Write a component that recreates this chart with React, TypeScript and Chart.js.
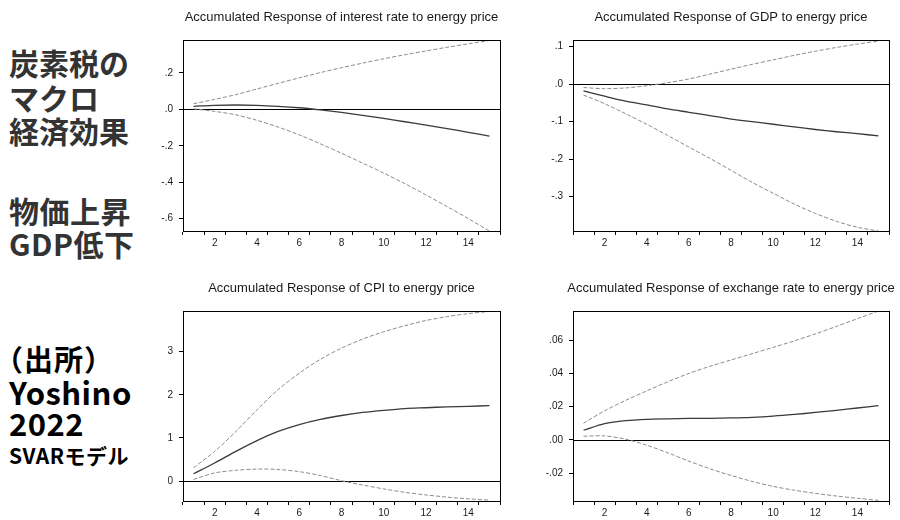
import React, { useEffect, useRef } from "react";
import { Chart, registerables } from "chart.js";

Chart.register(...registerables);

// ---------- data ----------
const PERIODS = [1, 2, 3, 4, 5, 6, 7, 8, 9, 10, 11, 12, 13, 14, 15];

const RATE_TITLE = "Accumulated Response of interest rate to energy price";
const RATE_UPPER = [0.031, 0.055, 0.081, 0.112, 0.143, 0.173, 0.202, 0.229, 0.254, 0.278, 0.3, 0.321, 0.341, 0.36, 0.378];
const RATE_MID = [0.017, 0.022, 0.024, 0.022, 0.017, 0.009, -0.003, -0.017, -0.033, -0.05, -0.068, -0.087, -0.106, -0.126, -0.147];
const RATE_LOWER = [0.003, -0.011, -0.03, -0.06, -0.097, -0.14, -0.189, -0.241, -0.295, -0.35, -0.408, -0.47, -0.534, -0.6, -0.668];
const RATE_TICKS = [-0.6, -0.4, -0.2, 0, 0.2];

const GDP_TITLE = "Accumulated Response of GDP to energy price";
const GDP_UPPER = [-0.009, -0.012, -0.01, -0.004, 0.004, 0.014, 0.027, 0.04, 0.053, 0.065, 0.077, 0.088, 0.098, 0.107, 0.115];
const GDP_MID = [-0.018, -0.032, -0.045, -0.055, -0.066, -0.075, -0.084, -0.093, -0.1, -0.107, -0.114, -0.121, -0.127, -0.132, -0.138];
const GDP_LOWER = [-0.029, -0.052, -0.079, -0.107, -0.137, -0.168, -0.198, -0.23, -0.262, -0.291, -0.32, -0.345, -0.366, -0.382, -0.392];
const GDP_TICKS = [-0.3, -0.2, -0.1, 0, 0.1];

const CPI_TITLE = "Accumulated Response of CPI to energy price";
const CPI_UPPER = [0.31, 0.69, 1.15, 1.65, 2.12, 2.5, 2.82, 3.08, 3.29, 3.46, 3.6, 3.72, 3.81, 3.88, 3.93];
const CPI_MID = [0.17, 0.42, 0.69, 0.94, 1.15, 1.31, 1.43, 1.52, 1.59, 1.64, 1.68, 1.7, 1.72, 1.73, 1.75];
const CPI_LOWER = [0.04, 0.19, 0.25, 0.28, 0.27, 0.22, 0.13, 0.01, -0.09, -0.18, -0.26, -0.32, -0.37, -0.41, -0.44];
const CPI_TICKS = [0, 1, 2, 3];

const FX_TITLE = "Accumulated Response of exchange rate to energy price";
const FX_UPPER = [0.01, 0.0175, 0.0238, 0.0295, 0.035, 0.04, 0.0443, 0.0481, 0.0519, 0.0557, 0.0596, 0.0638, 0.0683, 0.073, 0.0776];
const FX_MID = [0.0058, 0.0098, 0.0116, 0.0124, 0.0127, 0.0129, 0.013, 0.0132, 0.0136, 0.0143, 0.0153, 0.0165, 0.0178, 0.0192, 0.0206];
const FX_LOWER = [0.0022, 0.0024, 0.0004, -0.0032, -0.0078, -0.0128, -0.0174, -0.0214, -0.025, -0.028, -0.0303, -0.0322, -0.0338, -0.0352, -0.0364];
const FX_TICKS = [-0.02, 0, 0.02, 0.04, 0.06];

const SIDE_TOP = ["炭素税の", "マクロ", "経済効果"];
const SIDE_MID = ["物価上昇", "GDP低下"];
const SIDE_PAREN = "（出所）";
const SIDE_SOURCE = ["Yoshino", "2022"];
const SIDE_MODEL = "SVARモデル";

// ---------- helpers ----------
function fmt(v: number, d: number): string {
  const x = Math.abs(v) < 1e-12 ? 0 : v;
  let s = x.toFixed(d);
  if (d > 0) s = s.replace(/^(-?)0\./, "$1.");
  return s;
}

const framePlugin = {
  id: "frame",
  beforeDatasetsDraw(chart: any) {
    const { ctx, chartArea, scales } = chart;
    const yz = Math.round(scales.y.getPixelForValue(0)) + 0.5;
    ctx.save();
    ctx.strokeStyle = "#000";
    ctx.lineWidth = 1;
    ctx.beginPath();
    ctx.moveTo(chartArea.left, yz);
    ctx.lineTo(chartArea.right, yz);
    ctx.stroke();
    ctx.restore();
  },
  afterDraw(chart: any, _args: any, opts: any) {
    const { ctx, chartArea } = chart;
    const { left, top, right, bottom } = chartArea;
    ctx.save();
    ctx.strokeStyle = "#000";
    ctx.lineWidth = 1;
    ctx.strokeRect(Math.round(left) + 0.5, Math.round(top) + 0.5, Math.round(right - left), Math.round(bottom - top));
    ctx.fillStyle = "#1a1a1a";
    ctx.font = `${opts.size}px "Liberation Sans", Arial, sans-serif`;
    ctx.textAlign = "center";
    ctx.textBaseline = "middle";
    ctx.fillText(opts.text, (left + right) / 2, opts.y);
    ctx.restore();
  },
};

type PanelProps = {
  left: number;
  top: number;
  width: number;
  height: number;
  areaLeft: number;
  areaRight: number;
  areaTop: number;
  areaBottom: number;
  title: string;
  titleY: number;
  upper: number[];
  mid: number[];
  lower: number[];
  yMin: number;
  yMax: number;
  yTicks: number[];
  decimals: number;
};

function Panel(p: PanelProps) {
  const ref = useRef<HTMLCanvasElement | null>(null);
  useEffect(() => {
    if (!ref.current) return;
    const dashed = {
      borderColor: "#8c8c8c",
      borderWidth: 1,
      borderDash: [4, 2],
      pointRadius: 0,
      tension: 0.3,
      fill: false,
    };
    const chart = new Chart(ref.current, {
      type: "line",
      data: {
        labels: PERIODS.map(String),
        datasets: [
          { ...dashed, data: p.upper },
          { data: p.mid, borderColor: "#3a3a3a", borderWidth: 1.3, pointRadius: 0, tension: 0.3, fill: false },
          { ...dashed, data: p.lower },
        ],
      },
      options: {
        responsive: false,
        animation: false,
        devicePixelRatio: 1,
        layout: {
          padding: { left: 0, top: p.areaTop, right: p.width - p.areaRight, bottom: 0 },
        },
        plugins: {
          legend: { display: false },
          tooltip: { enabled: false },
          title: { display: false },
          frame: { text: p.title, size: 13, y: p.titleY },
        } as any,
        scales: {
          x: {
            type: "category",
            offset: true,
            afterFit: (s: any) => {
              s.height = p.height - p.areaBottom;
            },
            grid: { offset: true, drawOnChartArea: false, drawTicks: true, tickLength: 4, color: "#000" },
            border: { display: true, color: "#000" },
            ticks: {
              autoSkip: false,
              maxRotation: 0,
              minRotation: 0,
              padding: 2,
              color: "#1a1a1a",
              font: { family: "Liberation Sans", size: 10 },
              callback: (_v: any, i: number) => (PERIODS[i] % 2 === 0 ? String(PERIODS[i]) : ""),
            },
          },
          y: {
            type: "linear",
            min: p.yMin,
            max: p.yMax,
            afterFit: (s: any) => {
              s.width = p.areaLeft;
            },
            afterBuildTicks: (s: any) => {
              s.ticks = p.yTicks.map((v) => ({ value: v }));
            },
            grid: { drawOnChartArea: false, drawTicks: true, tickLength: 4, color: "#000" },
            border: { display: true, color: "#000" },
            ticks: {
              padding: 6,
              color: "#1a1a1a",
              font: { family: "Liberation Sans", size: 10 },
              callback: (v: any) => fmt(Number(v), p.decimals),
            },
          },
        },
      },
      plugins: [framePlugin as any],
    });
    return () => chart.destroy();
  }, []);
  return (
    <canvas
      ref={ref}
      width={p.width}
      height={p.height}
      style={{ position: "absolute", left: p.left, top: p.top, width: p.width, height: p.height }}
    />
  );
}

function SideLine({
  text,
  center,
  size,
  color,
  left = 9,
  spacing = 0,
}: {
  text: string;
  center: number;
  size: number;
  color: string;
  left?: number;
  spacing?: number;
}) {
  const lh = 36;
  return (
    <div
      style={{
        position: "absolute",
        left,
        top: center - lh / 2,
        height: lh,
        lineHeight: `${lh}px`,
        fontFamily: '"Noto Sans CJK JP", "Noto Sans", sans-serif',
        fontWeight: 700,
        fontSize: size,
        letterSpacing: spacing,
        color,
        whiteSpace: "nowrap",
      }}
    >
      {text}
    </div>
  );
}

export default function App() {
  const topRow = { top: 0, height: 260, areaTop: 40, areaBottom: 231, titleY: 17 };
  const botRow = { top: 270, height: 250, areaTop: 41, areaBottom: 231, titleY: 18 };
  const leftCol = { left: 140, width: 370, areaLeft: 43, areaRight: 360 };
  const rightCol = { left: 530, width: 370, areaLeft: 43, areaRight: 359 };
  return (
    <div
      style={{
        position: "absolute",
        left: 0,
        top: 0,
        width: 900,
        height: 520,
        background: "#fff",
        overflow: "hidden",
      }}
    >
      {SIDE_TOP.map((t, i) => (
        <SideLine key={"a" + i} text={t} center={[62, 97, 130][i]} size={30} color="#333" />
      ))}
      {SIDE_MID.map((t, i) => (
        <SideLine key={"b" + i} text={t} center={[210, 243][i]} size={30} color="#333" spacing={0.5} />
      ))}
      <SideLine text={SIDE_PAREN} center={358} size={29} color="#000" left={-6} spacing={1} />
      {SIDE_SOURCE.map((t, i) => (
        <SideLine key={"c" + i} text={t} center={[392, 423][i]} size={31} color="#000" spacing={0.5} />
      ))}
      <SideLine text={SIDE_MODEL} center={455} size={21} color="#000" spacing={0.5} />

      <Panel
        {...topRow}
        {...leftCol}
        title={RATE_TITLE}
        upper={RATE_UPPER}
        mid={RATE_MID}
        lower={RATE_LOWER}
        yMin={-0.668}
        yMax={0.381}
        yTicks={RATE_TICKS}
        decimals={1}
      />
      <Panel
        {...topRow}
        {...rightCol}
        title={GDP_TITLE}
        upper={GDP_UPPER}
        mid={GDP_MID}
        lower={GDP_LOWER}
        yMin={-0.392}
        yMax={0.118}
        yTicks={GDP_TICKS}
        decimals={1}
      />
      <Panel
        {...botRow}
        {...leftCol}
        title={CPI_TITLE}
        upper={CPI_UPPER}
        mid={CPI_MID}
        lower={CPI_LOWER}
        yMin={-0.46}
        yMax={3.94}
        yTicks={CPI_TICKS}
        decimals={0}
      />
      <Panel
        {...botRow}
        {...rightCol}
        title={FX_TITLE}
        upper={FX_UPPER}
        mid={FX_MID}
        lower={FX_LOWER}
        yMin={-0.0368}
        yMax={0.0776}
        yTicks={FX_TICKS}
        decimals={2}
      />
    </div>
  );
}
